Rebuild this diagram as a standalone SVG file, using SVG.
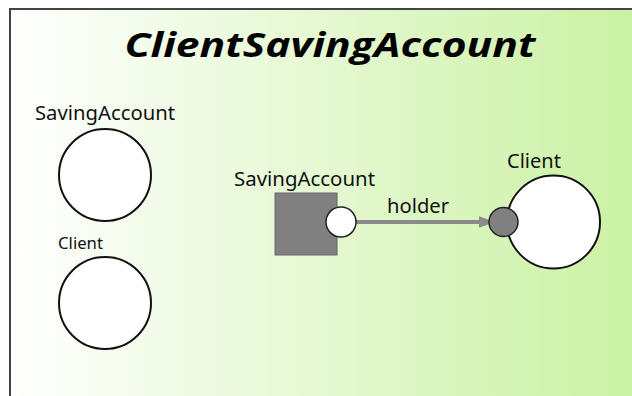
<svg xmlns="http://www.w3.org/2000/svg" width="632" height="396" viewBox="0 0 632 396">
<defs>
<linearGradient id="bg" x1="0" y1="0" x2="1" y2="0">
<stop offset="0" stop-color="#ffffff"/>
<stop offset="1" stop-color="#c9f1a1"/>
</linearGradient>
<marker id="arr" markerWidth="4" markerHeight="3" refX="3.6" refY="1.5" orient="auto" markerUnits="strokeWidth">
<path d="M0,0 L4,1.5 L0,3 Z" fill="#8a8a8a"/>
</marker>
<style>
.lbl{font-family:"Noto Sans","Open Sans",sans-serif;fill:#111}
.wc{fill:#fff;stroke:#111;stroke-width:2}
</style>
</defs>
<rect x="10" y="9" width="640" height="400" fill="url(#bg)" stroke="#444" stroke-width="2"/>
<text x="330" y="57" text-anchor="middle" font-family="'Open Sans','Noto Sans',sans-serif" font-weight="bold" font-style="italic" font-size="34" textLength="411" lengthAdjust="spacingAndGlyphs" fill="#000">ClientSavingAccount</text>
<g id="node-saving-left">
<text class="lbl" x="105" y="120" text-anchor="middle" font-size="20" textLength="140" lengthAdjust="spacingAndGlyphs">SavingAccount</text>
<circle class="wc" cx="105" cy="175" r="46"/>
</g>
<g id="node-client-left">
<text class="lbl" x="58" y="249" font-size="16" textLength="45" lengthAdjust="spacingAndGlyphs">Client</text>
<circle class="wc" cx="105" cy="303" r="46"/>
</g>
<g id="node-saving">
<text class="lbl" x="304.5" y="186" text-anchor="middle" font-size="20" textLength="141" lengthAdjust="spacingAndGlyphs">SavingAccount</text>
<rect x="275" y="193" width="62" height="62" fill="#808080" stroke="#666" stroke-width="1"/>
</g>
<g id="node-client">
<text class="lbl" x="534" y="168" text-anchor="middle" font-size="20" textLength="54" lengthAdjust="spacingAndGlyphs">Client</text>
<circle class="wc" cx="553.5" cy="222" r="46.5"/>
</g>
<g id="connectors">
<line x1="356" y1="222" x2="493" y2="222" stroke="#8a8a8a" stroke-width="4" marker-end="url(#arr)"/>
<text class="lbl" x="418" y="213" text-anchor="middle" font-size="20" textLength="62" lengthAdjust="spacingAndGlyphs">holder</text>
<circle cx="341" cy="222" r="15" fill="#fff" stroke="#222" stroke-width="1.5"/>
<circle cx="503.5" cy="222" r="14.5" fill="#808080" stroke="#222" stroke-width="1.5"/>
</g>
</svg>
